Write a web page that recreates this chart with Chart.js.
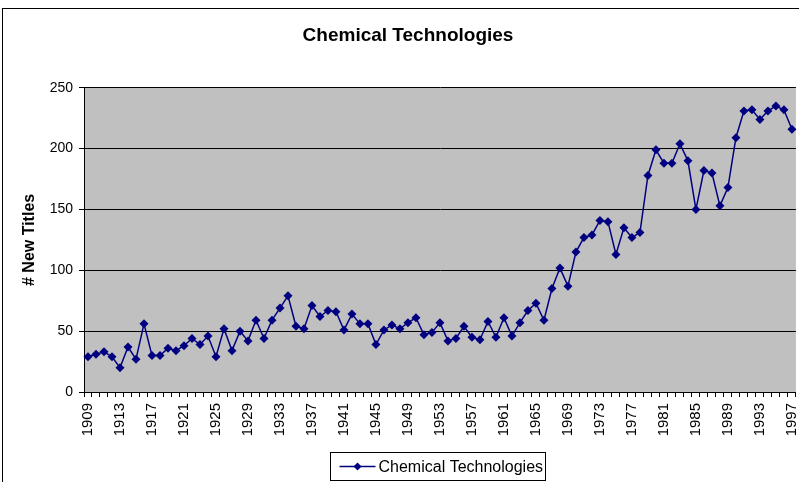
<!DOCTYPE html>
<html>
<head>
<meta charset="utf-8">
<script src="https://cdn.jsdelivr.net/npm/chart.js@4/dist/chart.umd.min.js"></script>
<style>
  html, body { margin: 0; padding: 0; background: #fff; overflow: hidden; }
  #wrap { position: relative; width: 799px; height: 482px; overflow: hidden; }
  canvas { position: absolute; left: 0; top: 0; }
</style>
</head>
<body>
<div id="wrap"><canvas id="c" width="816" height="482" style="width:816px;height:482px"></canvas></div>
<script>
const chartTitle = 'Chemical Technologies';
const yAxisTitle = '# New Titles';
const seriesName = 'Chemical Technologies';
const years = ['1909','1910','1911','1912','1913','1914','1915','1916','1917','1918',
  '1919','1920','1921','1922','1923','1924','1925','1926','1927','1928',
  '1929','1930','1931','1932','1933','1934','1935','1936','1937','1938',
  '1939','1940','1941','1942','1943','1944','1945','1946','1947','1948',
  '1949','1950','1951','1952','1953','1954','1955','1956','1957','1958',
  '1959','1960','1961','1962','1963','1964','1965','1966','1967','1968',
  '1969','1970','1971','1972','1973','1974','1975','1976','1977','1978',
  '1979','1980','1981','1982','1983','1984','1985','1986','1987','1988',
  '1989','1990','1991','1992','1993','1994','1995','1996','1997'];
const newTitles = [29,31,33,29,20,37,27,56,30,30,
  36,34,38,44,39,46,29,52,34,50,
  42,59,44,59,69,79,54,52,71,62,
  67,66,51,64,56,56,39,51,55,52,
  57,61,47,49,57,42,44,54,45,43,
  58,45,61,46,57,67,73,59,85,102,
  87,115,127,129,141,140,113,135,127,131,
  178,199,188,188,204,190,150,182,180,153,
  168,209,231,232,224,231,235,232,216];
const yTicks = { min: 0, max: 250, step: 50 };

const FONT = '"Liberation Sans", Arial, sans-serif';
Chart.defaults.font.family = FONT;
Chart.defaults.color = '#000';

const frame = {
  id: 'frame',
  beforeDraw(chart) {
    const { ctx, chartArea: a } = chart;
    ctx.save();
    ctx.fillStyle = '#fff';
    ctx.fillRect(0, 0, chart.width, chart.height);
    ctx.strokeStyle = '#000';
    ctx.lineWidth = 1;
    ctx.strokeRect(2.5, 8.5, 900, 600);
    ctx.fillStyle = '#c0c0c0';
    ctx.fillRect(a.left, a.top, a.right - a.left, a.bottom - a.top);
    ctx.restore();
  },
  afterDraw(chart) {
    const ctx = chart.ctx;
    const ds = chart.data.datasets[0];
    ctx.save();
    const bx = 330.5, by = 452.5, bw = 215, bh = 28;
    ctx.fillStyle = '#fff';
    ctx.fillRect(bx, by, bw, bh);
    ctx.strokeStyle = '#000';
    ctx.lineWidth = 1;
    ctx.strokeRect(bx, by, bw, bh);
    const cy = by + bh / 2;
    ctx.strokeStyle = ds.borderColor;
    ctx.lineWidth = 1.5;
    ctx.beginPath();
    ctx.moveTo(bx + 9, cy);
    ctx.lineTo(bx + 45, cy);
    ctx.stroke();
    ctx.fillStyle = ds.backgroundColor;
    const mx = bx + 27, r = 4;
    ctx.beginPath();
    ctx.moveTo(mx, cy - r); ctx.lineTo(mx + r, cy); ctx.lineTo(mx, cy + r); ctx.lineTo(mx - r, cy);
    ctx.closePath();
    ctx.fill();
    ctx.fillStyle = '#000';
    ctx.font = '16px ' + FONT;
    ctx.textBaseline = 'middle';
    ctx.textAlign = 'left';
    ctx.fillText(ds.label, bx + 48, cy + 1);
    ctx.restore();
  }
};

new Chart(document.getElementById('c'), {
  type: 'line',
  data: {
    labels: years,
    datasets: [{
      label: seriesName,
      data: newTitles,
      borderColor: '#000080',
      backgroundColor: '#000080',
      borderWidth: 1.5,
      pointStyle: 'rectRot',
      pointRadius: 4.5,
      pointBorderWidth: 0,
      pointBackgroundColor: '#000080',
      tension: 0,
      fill: false
    }]
  },
  options: {
    responsive: false,
    animation: false,
    devicePixelRatio: 1,
    layout: { padding: { left: 16, right: 16, top: 0, bottom: 0 } },
    plugins: {
      legend: { display: false },
      tooltip: { enabled: false },
      title: {
        display: true,
        text: chartTitle,
        color: '#000',
        font: { size: 19, weight: 'bold', family: FONT, lineHeight: 1.2 },
        padding: { top: 24, bottom: 41 }
      }
    },
    scales: {
      x: {
        type: 'category',
        offset: true,
        grid: { display: true, drawOnChartArea: false, drawTicks: true, tickLength: 5, color: '#000', offset: true },
        border: { color: '#000', width: 1 },
        ticks: {
          autoSkip: false,
          minRotation: 90,
          maxRotation: 90,
          padding: 6,
          font: { size: 15 },
          color: '#000',
          callback: function (value, index) { return index % 4 === 0 ? this.getLabelForValue(value) : ''; }
        },
        afterFit(scale) { scale.height = 90; }
      },
      y: {
        min: yTicks.min,
        max: yTicks.max,
        ticks: { stepSize: yTicks.step, padding: 6, font: { size: 14 }, color: '#000' },
        grid: { color: '#000', lineWidth: 1, drawTicks: true, tickLength: 5 },
        border: { color: '#000', width: 1 },
        title: { display: true, text: yAxisTitle, color: '#000', font: { size: 16, weight: 'bold' }, padding: { top: 4, bottom: 0 } },
        afterFit(scale) { scale.width = 68; }
      }
    }
  },
  plugins: [frame]
});
</script>
</body>
</html>
